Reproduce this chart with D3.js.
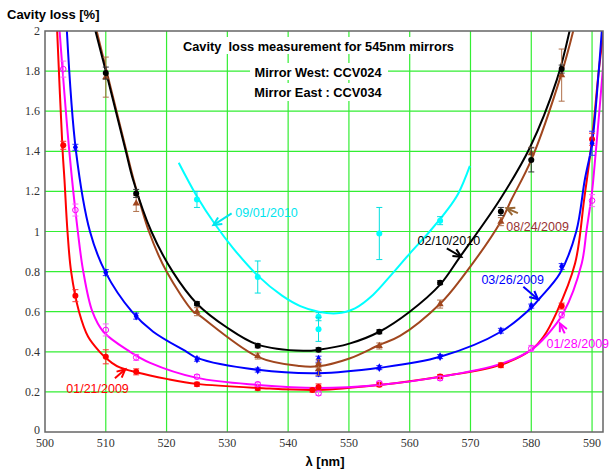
<!DOCTYPE html>
<html><head><meta charset="utf-8">
<script src="https://cdn.jsdelivr.net/npm/d3@7"></script>
<style>body{margin:0;background:#fff}svg{display:block}</style>
</head><body>
<svg id="c" width="609" height="470"></svg>
<script>
// ---- data ----
const xTicks = [500,510,520,530,540,550,560,570,580,590];
const yTicks = [0,0.2,0.4,0.6,0.8,1,1.2,1.4,1.6,1.8,2];
const yTickLabels = ["0","0.2","0.4","0.6","0.8","1","1.2","1.4","1.6","1.8","2"];

// measured points [lambda, loss, error]
const redPts = [[503,1.43,0.02],[505,0.68,0.03],[510,0.375,0.035],[515,0.30,0.015],[525,0.238,0.01],[535,0.218,0.01],[544,0.209,0.01],[545,0.225,0.015],[555,0.236,0.01],[565,0.277,0.01],[575,0.333,0.012],[585,0.628,0.015],[590,1.46,0.03]];
const magentaPts = [[503,1.81,0.04],[505,1.107,0.03],[510,0.509,0.03],[515,0.372,0.015],[525,0.276,0.01],[535,0.238,0.01],[545,0.193,0.01],[555,0.243,0.01],[565,0.268,0.01],[580,0.417,0.015],[585,0.584,0.015],[590,1.154,0.03]];
const bluePts = [[505,1.42,0.015],[510,0.795,0.015],[515,0.578,0.015],[525,0.363,0.01],[535,0.309,0.01],[545,0.363,0.015],[545,0.293,0.015],[555,0.321,0.01],[565,0.376,0.01],[575,0.505,0.012],[580,0.628,0.01],[585,0.825,0.015],[590,1.44,0.06]];
const brownPts = [[510,1.77,0.1],[515,1.14,0.04],[525,0.60,0.02],[535,0.379,0.015],[545,0.313,0.03],[545,0.34,0.02],[555,0.429,0.015],[565,0.638,0.02],[575,1.049,0.02],[580,1.39,0.03],[585,1.78,0.13]];
const blackPts = [[510,1.79,0.03],[515,1.19,0.02],[525,0.64,0.01],[535,0.43,0.01],[545,0.41,0.01],[555,0.50,0.01],[565,0.745,0.01],[575,1.10,0.02],[580,1.357,0.06],[585,1.81,0.02]];
const cyanPts = [[525,1.16,0.04],[535,0.773,0.08],[545,0.575,0.02],[545,0.512,0.06],[555,0.99,0.13],[565,1.054,0.02]];

// fitted curves [lambda, loss]
const redFit = [[502.0,2.0],[502.9,1.4],[503.2,1.26],[503.7,1.0],[504.3,0.8],[505.6,0.6],[507.1,0.475],[509,0.40],[510,0.37],[511,0.345],[512.3,0.322],[515,0.298],[520,0.265],[525,0.24],[535,0.22],[545,0.21],[555,0.235],[565,0.276],[575,0.335],[580,0.41],[582,0.475],[584.1,0.592],[587.2,0.84],[588.7,1.16],[590,1.46],[591.1,1.8],[591.9,2.0]];
const magentaFit = [[502.4,2.0],[504.0,1.4],[505.4,1.0],[506.3,0.8],[507.8,0.6],[509.6,0.5],[514,0.4],[517.3,0.345],[525,0.27],[535,0.235],[545,0.22],[555,0.235],[565,0.275],[575,0.34],[580,0.41],[582.5,0.48],[585.25,0.592],[588.3,0.841],[589.1,1.007],[589.9,1.174],[590.2,1.257],[591.2,1.6],[592.3,2.0]];
const blueFit = [[503.6,2.0],[505.1,1.4],[507.4,1.0],[509.9,0.8],[514.3,0.6],[517.8,0.5],[523.3,0.4],[525,0.37],[535,0.31],[545,0.293],[555,0.32],[565,0.375],[575,0.50],[580,0.62],[581.4,0.667],[584.7,0.79],[587.4,1.0],[588.8,1.257],[590,1.44],[591.1,1.8],[591.6,2.0]];
const brownFit = [[508.5,2.0],[513.4,1.4],[514.6,1.257],[517.1,1.0],[520.0,0.8],[524.4,0.6],[525,0.59],[535,0.375],[541.9,0.329],[545,0.328],[550.2,0.368],[555,0.434],[558.4,0.479],[565,0.64],[568.3,0.758],[575,1.05],[576.7,1.157],[580,1.357],[585,1.79],[586.9,2.0]];
const blackFit = [[508.3,2.0],[510,1.80],[513.3,1.4],[514.5,1.257],[517.5,1.0],[521,0.8],[525,0.64],[530,0.52],[535,0.436],[542.5,0.405],[545,0.41],[550.2,0.442],[555,0.50],[560,0.60],[565,0.735],[568.3,0.875],[574.8,1.157],[579.8,1.42],[584.2,1.756],[586.3,2.0]];
const cyanFit = [[522.0,1.343],[525,1.175],[528,1.035],[531,0.915],[535,0.78],[539,0.68],[542,0.628],[545,0.60],[548,0.592],[551,0.617],[554,0.685],[557,0.785],[560,0.89],[563,0.99],[566,1.10],[568,1.19],[569.9,1.327]];

// annotations: label, text anchor (lambda, loss), arrow from, arrow to
const annotations = [
  {text:"09/01/2010", color:"#00e5ee", arrow:"#00e5ee", at:[531.3,1.097], from:[530.7,1.09], to:[527.7,1.032]},
  {text:"02/10/2010", color:"#000000", arrow:"#000000", at:[561.3,0.953], from:[566.1,0.916], to:[568.5,0.874]},
  {text:"08/24/2009", color:"#993333", arrow:"#996633", at:[575.9,1.024], from:[577.8,1.092], to:[575.9,1.116]},
  {text:"03/26/2009", color:"#0000ff", arrow:"#0000ff", at:[571.8,0.763], from:[578.7,0.725], to:[581.1,0.662]},
  {text:"01/28/2009", color:"#ff00ff", arrow:"#ff00ff", at:[582.5,0.439], from:[585.5,0.492], to:[584.7,0.542]},
  {text:"01/21/2009", color:"#ff0000", arrow:"#ff0000", at:[503.5,0.2145], from:[511.5,0.268], to:[513.2,0.313]}
];

const series = [
  {pts:redPts, fit:redFit, color:"#ff0000", err:"#ff3333", marker:"dot"},
  {pts:magentaPts, fit:magentaFit, color:"#ff00ff", err:"#ff66ff", marker:"ring"},
  {pts:bluePts, fit:blueFit, color:"#0000ff", err:"#3333ff", marker:"cross"},
  {pts:brownPts, fit:brownFit, color:"#a0461e", err:"#b0704a", marker:"tri"},
  {pts:blackPts, fit:blackFit, color:"#000000", err:"#333333", marker:"dot"},
  {pts:cyanPts, fit:cyanFit, color:"#00ffff", err:"#00e0e0", marker:"dot"}
];

// ---- chart ----
const svg = d3.select("#c");
const L=45, T=31, R=603, B=432;
const x = d3.scaleLinear().domain([500,591.8]).range([L,R]);
const y = d3.scaleLinear().domain([0,2]).range([B,T]);

svg.append("defs").append("clipPath").attr("id","clip")
  .append("rect").attr("x",L).attr("y",T).attr("width",R-L).attr("height",B-T);

// grid
const grid = svg.append("g");
grid.selectAll("line.v").data(xTicks.slice(1)).join("line")
  .attr("x1",d=>x(d)).attr("x2",d=>x(d)).attr("y1",T).attr("y2",B)
  .attr("stroke","#33ee33").attr("stroke-width",1.2);
grid.selectAll("line.h").data(yTicks.slice(1,-1)).join("line")
  .attr("y1",d=>y(d)).attr("y2",d=>y(d)).attr("x1",L).attr("x2",R)
  .attr("stroke","#33ee33").attr("stroke-width",1.2);

// title boxes
const tg = svg.append("g").attr("font-family","Liberation Sans, Arial, sans-serif").attr("fill","#000");
[[178,37,284,17],[250,63,138,17],[250,83,138,18]].forEach(r=>{
  tg.append("rect").attr("x",r[0]).attr("y",r[1]).attr("width",r[2]).attr("height",r[3]).attr("fill","#fff");
});
tg.append("text").attr("x",183).attr("y",50.5).attr("font-weight","bold").attr("font-size",12.8).attr("xml:space","preserve").text("Cavity  loss measurement for 545nm mirrors");
tg.append("text").attr("x",318).attr("y",77).attr("text-anchor","middle").attr("font-weight","bold").attr("font-size",12.8).text("Mirror West: CCV024");
tg.append("text").attr("x",318).attr("y",96.5).attr("text-anchor","middle").attr("font-weight","bold").attr("font-size",12.8).text("Mirror East : CCV034");

// curves & points
const plot = svg.append("g").attr("clip-path","url(#clip)");
const line = d3.line().x(d=>x(d[0])).y(d=>y(d[1])).curve(d3.curveCatmullRom.alpha(0.5));
series.forEach(s=>{
  plot.append("path").datum(s.fit).attr("d",line).attr("fill","none")
    .attr("stroke",s.color).attr("stroke-width",2);
});
series.forEach(s=>{
  const g = plot.append("g");
  s.pts.forEach(p=>{
    const cx=x(p[0]), y1=y(p[1]+p[2]), y2=y(p[1]-p[2]);
    g.append("line").attr("x1",cx).attr("x2",cx).attr("y1",y1).attr("y2",y2).attr("stroke",s.err).attr("stroke-width",1);
    g.append("line").attr("x1",cx-3).attr("x2",cx+3).attr("y1",y1).attr("y2",y1).attr("stroke",s.err).attr("stroke-width",1);
    g.append("line").attr("x1",cx-3).attr("x2",cx+3).attr("y1",y2).attr("y2",y2).attr("stroke",s.err).attr("stroke-width",1);
    const cy=y(p[1]);
    if(s.marker==="dot") g.append("circle").attr("cx",cx).attr("cy",cy).attr("r",3).attr("fill",s.color);
    else if(s.marker==="ring") g.append("circle").attr("cx",cx).attr("cy",cy).attr("r",2.8).attr("fill","none").attr("stroke",s.color).attr("stroke-width",1);
    else if(s.marker==="cross") g.append("path").attr("d",d3.symbol(d3.symbolDiamond,22)()).attr("transform",`translate(${cx},${cy})`).attr("fill",s.color);
    else g.append("path").attr("d",d3.symbol(d3.symbolTriangle,22)()).attr("transform",`translate(${cx},${cy})`).attr("fill",s.color);
  });
});

// frame
svg.append("rect").attr("x",L).attr("y",T).attr("width",R-L).attr("height",B-T)
  .attr("fill","none").attr("stroke","#666").attr("stroke-width",1.5);

// tick labels
const tl = svg.append("g").attr("font-family","Liberation Serif, Times New Roman, serif").attr("font-size",12).attr("fill","#333");
tl.selectAll("text.y").data(yTicks).join("text")
  .attr("x",40).attr("y",d=>y(d)+(d===0?2:4)).attr("text-anchor","end").text((d,i)=>yTickLabels[i]);
tl.selectAll("text.x").data(xTicks).join("text")
  .attr("x",d=>x(d)).attr("y",447).attr("text-anchor","middle").text(d=>d);

// axis titles
svg.append("text").attr("x",7).attr("y",19).attr("font-family","Liberation Sans, Arial, sans-serif")
  .attr("font-weight","bold").attr("font-size",13).text("Cavity loss [%]");
svg.append("text").attr("x",325).attr("y",466).attr("text-anchor","middle").attr("font-family","Liberation Sans, Arial, sans-serif")
  .attr("font-weight","bold").attr("font-size",13).text("λ [nm]");

// annotations
const ag = svg.append("g").attr("font-family","Liberation Sans, Arial, sans-serif").attr("font-size",12.5);
annotations.forEach(a=>{
  ag.append("text").attr("x",x(a.at[0])).attr("y",y(a.at[1])+4.5).attr("fill",a.color).text(a.text);
  const x1=x(a.from[0]), y1=y(a.from[1]), x2=x(a.to[0]), y2=y(a.to[1]);
  const ang=Math.atan2(y2-y1,x2-x1), hl=9, hw=0.45;
  ag.append("line").attr("x1",x1).attr("y1",y1).attr("x2",x2).attr("y2",y2).attr("stroke",a.arrow).attr("stroke-width",2);
  const p1=[x2-hl*Math.cos(ang-hw), y2-hl*Math.sin(ang-hw)];
  const p2=[x2-hl*Math.cos(ang+hw), y2-hl*Math.sin(ang+hw)];
  ag.append("path").attr("d",`M${p1[0]},${p1[1]}L${x2},${y2}L${p2[0]},${p2[1]}`)
    .attr("fill","none").attr("stroke",a.arrow).attr("stroke-width",2);
});
</script>
</body></html>
